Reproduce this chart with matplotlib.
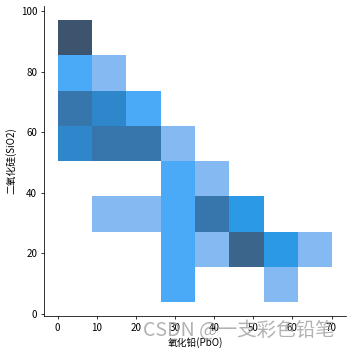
import matplotlib
matplotlib.use("Agg")
import matplotlib.pyplot as plt
import seaborn as sns
import pandas as pd

plt.rcParams['font.family'] = ['Noto Sans CJK SC', 'DejaVu Sans']
plt.rcParams['axes.unicode_minus'] = False

# PbO (x) and SiO2 (y) values, read per histogram cell
pbo = [0.5, 1.2, 2.1, 3.4, 4.6, 5.3, 7.2,
       1.6, 6.3,
       12.4,
       0.0, 2.7, 4.1, 5.9, 8.1,
       9.5, 11.8, 14.3, 16.2,
       19.8, 24.1,
       1.3, 3.6, 6.0, 7.7,
       9.3, 10.7, 13.0, 15.2, 17.0,
       18.4, 20.3, 22.2, 23.9, 25.8,
       29.7,
       28.1, 32.6,
       38.8,
       13.5, 21.7, 27.4, 33.9,
       35.8, 37.6, 39.9, 41.5, 43.2,
       45.6, 48.7, 51.3,
       30.4, 34.2, 41.0,
       44.5, 46.0, 47.8, 49.1, 50.6, 52.1,
       54.7, 57.3, 60.2, 70.2,
       29.1, 33.4, 57.9]
sio2 = [87.5, 92.6, 95.0, 90.1, 97.0, 88.8, 86.1,
        81.2, 76.4,
        79.5,
        65.9, 70.3, 68.0, 72.6, 63.4,
        71.2, 67.5, 64.9, 69.7,
        66.7, 72.1,
        59.2, 55.0, 61.3, 52.8,
        58.4, 53.6, 60.6, 56.1, 51.9,
        59.8, 54.2, 57.6, 61.0, 51.4,
        53.9,
        47.2, 41.5,
        44.6,
        33.2, 30.1, 36.8, 29.3,
        37.5, 31.9, 34.4, 28.7, 36.0,
        33.0, 29.9, 37.4,
        22.8, 18.1, 25.3,
        24.6, 17.2, 21.9, 26.1, 19.5, 23.4,
        20.8, 25.6, 16.9, 21.4,
        4.0, 11.7, 8.6]

df = pd.DataFrame({'氧化铅(PbO)': pbo, '二氧化硅(SiO2)': sio2})

fig = plt.figure(figsize=(5, 5), dpi=70.4)
ax = fig.add_axes([0.125, 0.102, 0.858, 0.881])
sns.histplot(data=df, x='氧化铅(PbO)', y='二氧化硅(SiO2)', bins=8, ax=ax)
ax.spines['top'].set_visible(False)
ax.spines['right'].set_visible(False)

fig.text(0.405, 0.062, 'CSDN @一支彩色铅笔', fontsize=20, color='#999999',
         alpha=0.75, va='center', ha='left')

fig.savefig('out.png', dpi=70.4)
